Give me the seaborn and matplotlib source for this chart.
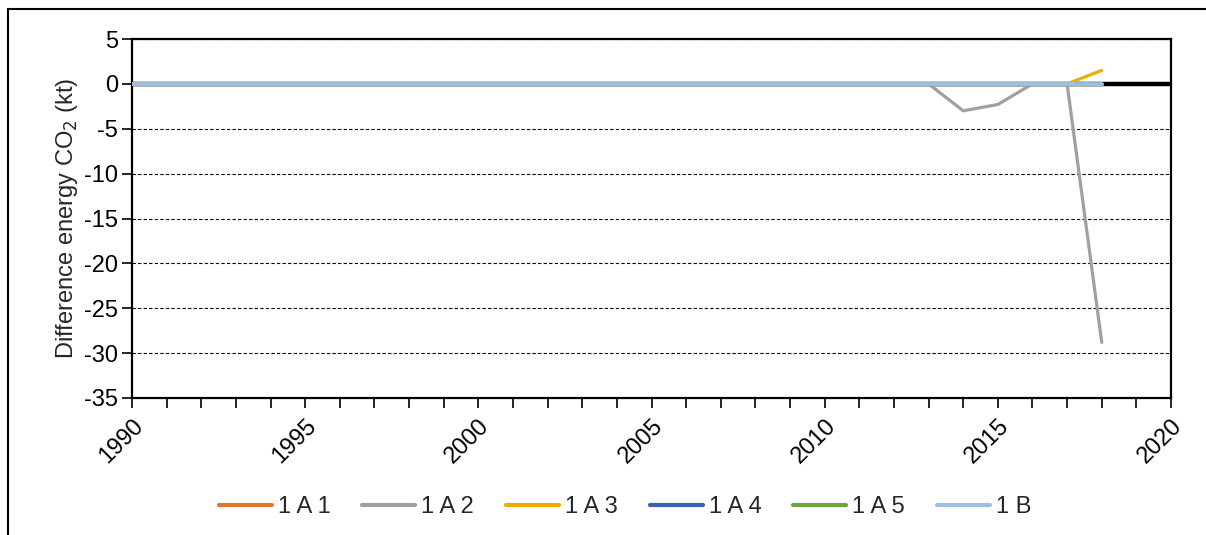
import matplotlib
matplotlib.use('Agg')
import matplotlib.pyplot as plt
import matplotlib.lines as mlines
from matplotlib.ticker import MultipleLocator
import seaborn as sns
import pandas as pd

sns.set_style("white")
plt.rcParams['font.family'] = ['Liberation Sans', 'DejaVu Sans']
plt.rcParams['axes.unicode_minus'] = False

# ── data ────────────────────────────────────────────────
years = list(range(1990, 2019))
s_1A1 = [0, 0, 0, 0, 0, 0, 0, 0, 0, 0, 0, 0, 0, 0, 0, 0, 0, 0, 0, 0,
         0, 0, 0, 0, 0, 0, 0, 0, 0]
s_1A2 = [0, 0, 0, 0, 0, 0, 0, 0, 0, 0, 0, 0, 0, 0, 0, 0, 0, 0, 0, 0,
         0, 0, 0, 0, -3.0, -2.3, 0, 0, -28.8]
s_1A3 = [0, 0, 0, 0, 0, 0, 0, 0, 0, 0, 0, 0, 0, 0, 0, 0, 0, 0, 0, 0,
         0, 0, 0, 0, 0, 0, 0, 0, 1.5]
s_1A4 = [0, 0, 0, 0, 0, 0, 0, 0, 0, 0, 0, 0, 0, 0, 0, 0, 0, 0, 0, 0,
         0, 0, 0, 0, 0, 0, 0, 0, 0]
s_1A5 = [0, 0, 0, 0, 0, 0, 0, 0, 0, 0, 0, 0, 0, 0, 0, 0, 0, 0, 0, 0,
         0, 0, 0, 0, 0, 0, 0, 0, 0]
s_1B = [0, 0, 0, 0, 0, 0, 0, 0, 0, 0, 0, 0, 0, 0, 0, 0, 0, 0, 0, 0,
        0, 0, 0, 0, 0, 0, 0, 0, 0]

labels = ['1 A 1', '1 A 2', '1 A 3', '1 A 4', '1 A 5', '1 B']
colors = ['#E07534', '#A0A0A0', '#E8AE00', '#3A62B0', '#6AA443', '#9DC0E6']
series = [s_1A1, s_1A2, s_1A3, s_1A4, s_1A5, s_1B]

df = pd.DataFrame({'year': years * len(labels),
                   'value': sum(series, []),
                   'cat': sum([[l] * len(years) for l in labels], [])})

FS = 17

# ── plot ────────────────────────────────────────────────
fig = plt.figure(figsize=(12.06, 5.35), dpi=100)
ax = fig.add_axes([132 / 1206, 1 - 398 / 535, (1171 - 132) / 1206, (398 - 39) / 535])

ax.axhline(0, color='black', linewidth=3.2, zorder=1)
sns.lineplot(data=df[df['cat'] != '1 B'], x='year', y='value', hue='cat',
             hue_order=labels[:-1], palette=dict(zip(labels, colors)),
             linewidth=2.3, ax=ax, legend=False, zorder=3)
# 1 B on top, a touch wider so it covers the stacked zero lines
sns.lineplot(x=years, y=s_1B, color=colors[-1], linewidth=2.7, ax=ax, zorder=4)

ax.set_xlim(1990, 2020)
ax.set_ylim(-35, 5)
ax.xaxis.set_major_locator(MultipleLocator(5))
ax.xaxis.set_minor_locator(MultipleLocator(1))
ax.yaxis.set_major_locator(MultipleLocator(5))
ax.yaxis.grid(True, linestyle=(0, (3, 2)), color='black', linewidth=0.8)
ax.xaxis.grid(False)
ax.set_axisbelow(True)

for sp in ax.spines.values():
    sp.set_color('black')
    sp.set_linewidth(1.6)

ax.tick_params(axis='both', which='both', direction='out', length=7, width=1.2,
               color='black', labelsize=FS, labelcolor='black')
ax.tick_params(axis='x', which='major', pad=5)
ax.tick_params(axis='y', pad=3)
ax.tick_params(left=True, bottom=True)
ax.tick_params(axis='x', which='minor', bottom=True)
for t in ax.get_xticklabels():
    t.set_rotation(45)
    t.set_ha('right')
    t.set_va('top')
    t.set_rotation_mode('anchor')

ax.set_xlabel('')
ax.set_ylabel('Difference energy CO$_2$ (kt)', fontsize=FS, labelpad=3)

handles = [mlines.Line2D([], [], color=c, linewidth=3) for c in colors]
fig.legend(handles, labels, loc='center', bbox_to_anchor=(625 / 1206, 1 - 507 / 535),
           ncol=6, frameon=False, fontsize=FS, handlelength=2.25, handletextpad=0.25,
           columnspacing=1.35)

# outer frame (left and top edges)
fig.add_artist(mlines.Line2D([8 / 1206, 8 / 1206], [0, 1 - 9 / 535],
                             transform=fig.transFigure, color='black', linewidth=1.5))
fig.add_artist(mlines.Line2D([8 / 1206, 1], [1 - 9 / 535, 1 - 9 / 535],
                             transform=fig.transFigure, color='black', linewidth=1.5))

fig.savefig('out.png', dpi=100)
